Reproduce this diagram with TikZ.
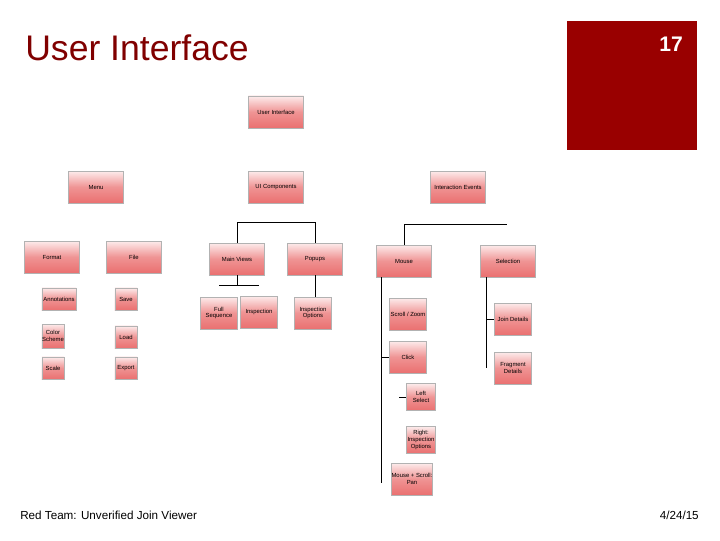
\documentclass[tikz,border=0pt]{standalone}
\usepackage{tikz}
\usetikzlibrary{shadows}
\usepackage{xcolor}
\usepackage{fontspec}
\setmainfont{Liberation Sans}
\definecolor{slidered}{RGB}{153,0,0}
\definecolor{titlered}{RGB}{128,0,0}
\definecolor{boxtop}{RGB}{253,236,236}
\definecolor{boxbot}{RGB}{234,112,112}

\begin{document}
\begin{tikzpicture}[x=0.025cm, y=-0.025cm,
    block/.style={rectangle, draw=gray!60, line width=0.3pt, top color=boxtop, bottom color=boxbot, middle color=boxbot!75, align=center, inner sep=0pt, font=\fontsize{4.2}{4.8}\selectfont, drop shadow={shadow xshift=0.6pt, shadow yshift=-0.6pt, opacity=0.25}},
    bigbox/.style={block, minimum width=1.375cm, minimum height=0.8cm},
    midbox/.style={block, minimum width=0.92cm, minimum height=0.8cm},
    smallbox/.style={block, minimum width=0.73cm, minimum height=0.68cm},
    tinybox/.style={block, minimum width=0.55cm, minimum height=0.56cm},
    conn/.style={black, line width=0.7pt}
]
\useasboundingbox (0,0) rectangle (720,540);

\fill[slidered] (567,21) rectangle (697,150);
\node[anchor=base east, inner sep=0pt, text=white, font=\fontsize{15}{18}\selectfont\bfseries] (num) at (683,51) {17};
\node[anchor=base west, inner sep=0pt, text=titlered, font=\fontsize{25.3}{29}\selectfont] (title) at (25,60) {User Interface};
\node[anchor=base west, inner sep=0pt, font=\fontsize{8.3}{10}\selectfont] (foot) at (20,519) {Red Team: Unverified Join Viewer};
\node[anchor=base east, inner sep=0pt, font=\fontsize{8.3}{10}\selectfont] (date) at (699,519) {4/24/15};

\node[bigbox] (ui) at (276,112) {User Interface};
\node[bigbox] (menu) at (96,187) {Menu};
\node[bigbox] (comp) at (276,187) {UI Components};
\node[bigbox] (ev) at (458,187) {Interaction Events};

\node[bigbox] (fmt) at (52,257) {Format};
\node[bigbox] (file) at (134,257) {File};
\node[bigbox] (mv) at (237,259) {Main Views};
\node[bigbox] (pp) at (315,259) {Popups};
\node[bigbox] (ms) at (404,261) {Mouse};
\node[bigbox] (sel) at (508,261) {Selection};

\node[tinybox, minimum width=0.85cm] (ann) at (59,299) {Annotations};
\node[tinybox] (save) at (126,299) {Save};
\node[tinybox, minimum height=0.6cm] (col) at (53,336) {Color\\Scheme};
\node[tinybox] (load) at (126,337) {Load};
\node[tinybox] (scl) at (53,368) {Scale};
\node[tinybox] (exp) at (126,368) {Export};

\node[midbox] (fs) at (219,313) {Full\\Sequence};
\node[midbox] (ins) at (259,312) {Inspection};
\node[midbox] (io) at (313,313) {Inspection\\Options};

\node[midbox] (sz) at (408,314) {Scroll / Zoom};
\node[midbox] (ck) at (408,357) {Click};
\node[smallbox] (ls) at (421,397) {Left\\Select};
\node[smallbox] (ri) at (421,440) {Right:\\Inspection\\Options};
\node[midbox] (pan) at (412,479) {Mouse + Scroll:\\Pan};
\node[midbox] (jd) at (513,319) {Join Details};
\node[midbox] (fd) at (513,368) {Fragment\\Details};

\coordinate (selTop) at (507,224);
\coordinate (mvL) at (219,285);
\coordinate (mvR) at (259,285);
\coordinate (mTrunk) at (381,483);
\coordinate (lsStub) at (399,397);
\coordinate (sTrunk) at (486,368);

\draw[conn] (mv.north) -- ++(0,-20) -| (pp.north);
\draw[conn] (ms.north) |- (selTop);
\draw[conn] (mv.south) -- (mv.south |- mvL);
\draw[conn] (mvL) -- (mvR);
\draw[conn] (pp.south) -- (pp.south |- io.north);
\draw[conn] (ms.south -| mTrunk) -- (mTrunk);
\draw[conn] (mTrunk |- ck.west) -- (ck.west);
\draw[conn] (lsStub) -- (ls.west);
\draw[conn] (sel.south -| sTrunk) -- (sTrunk);
\draw[conn] (sTrunk |- jd.west) -- (jd.west);
\end{tikzpicture}
\end{document}
